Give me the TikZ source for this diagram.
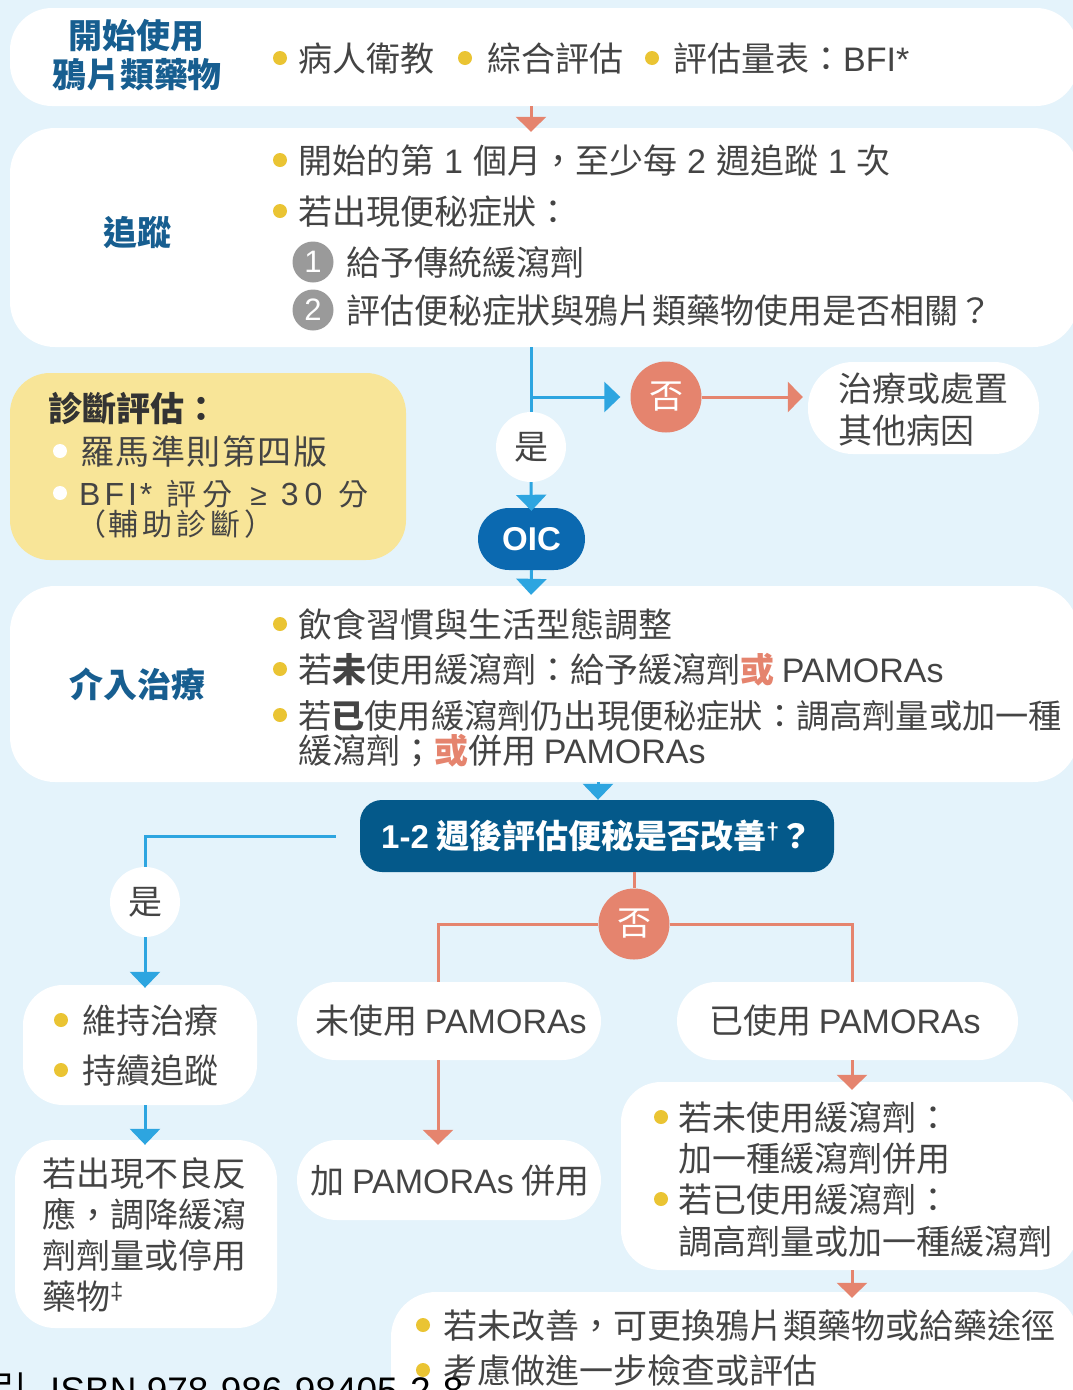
\documentclass[tikz,border=0pt]{standalone}
\usepackage{fontspec}
\setmainfont{Noto Sans CJK TC}
\newfontfamily\lat{Liberation Sans}
\usetikzlibrary{arrows.meta}
\definecolor{bg}{HTML}{E4F3FB}
\definecolor{navy}{HTML}{175E90}
\definecolor{txt}{HTML}{444444}
\definecolor{yel}{HTML}{EAC433}
\definecolor{sal}{HTML}{E5846E}
\definecolor{sky}{HTML}{2DA5E0}
\definecolor{oicc}{HTML}{0B69B0}
\definecolor{qcol}{HTML}{04598A}
\definecolor{ybox}{HTML}{F8E598}
\definecolor{numc}{HTML}{9A9A9A}
\newcommand\fsz{\fontsize{34}{40}\selectfont}
\newcommand\gp{\hspace{10pt}}
\newcommand\latb{\lat\fontsize{32}{32}\selectfont}
\tikzset{
  wbox/.style={draw=none, fill=white, rounded corners=40pt, inner sep=0pt},
  tx/.style={anchor=west, inner sep=0pt, text height=30pt, text depth=4pt, font=\fsz, text=txt},
  ctx/.style={tx, anchor=center},
  ttl/.style={inner sep=0pt, font=\bfseries\fontsize{34}{39}\selectfont, text=navy, align=center},
  bul/.style={circle, fill=yel, minimum size=14pt, inner sep=0pt},
  wbul/.style={bul, fill=white},
  numcirc/.style={circle, fill=numc, minimum size=41pt, inner sep=0pt, text=white, font=\lat\fontsize{31}{31}\selectfont},
  ynode/.style={circle, fill=white, minimum size=70pt, inner sep=0pt, font=\fsz, text=txt},
  nnode/.style={circle, fill=sal, minimum size=71pt, inner sep=0pt, font=\fsz, text=white},
  sarr/.style={draw=sal, line width=3pt, -{Triangle[width=30pt,length=15pt]}},
  barr/.style={draw=sky, line width=3pt, -{Triangle[width=30pt,length=16pt]}},
  sline/.style={draw=sal, line width=3pt},
  bline/.style={draw=sky, line width=3pt},
}
\begin{document}
\begin{tikzpicture}[x=1pt,y=-1pt]
\useasboundingbox (0,0) rectangle (1073,1390);
\clip (0,0) rectangle (1073,1390);
\fill[bg] (0,0) rectangle (1073,1390);

% coordinates for vertical connector lines
\coordinate (xa) at (531,0);
\coordinate (xq) at (598,0);
\coordinate (xn) at (634,0);
\coordinate (xl) at (438,0);
\coordinate (xr) at (852,0);
\coordinate (xy) at (145,0);

% ---------- box 1
\node[wbox, minimum width=1068pt, minimum height=98pt, rounded corners=42pt] (b1) at (544,57) {};
\node[ttl] (t1) at (137,55) {開始使用\\鴉片類藥物};
\node[bul] (u11) at (280,58) {};
\node[tx] (l11) at (298,58) {病人衛教};
\node[bul] (u12) at (465,58) {};
\node[tx] (l12) at (487,58) {綜合評估};
\node[bul] (u13) at (652,58) {};
\node[tx] (l13) at (673,58) {評估量表：{\lat BFI*}};

% ---------- box 2
\node[wbox, minimum width=1068pt, minimum height=219pt, rounded corners=45pt] (b2) at (544,237.5) {};
\node[ttl] (t2) at (137,233) {追蹤};
\node[bul] (u21) at (280,160) {};
\node[tx] (l21) at (298,160) {開始的第\gp{\lat 1}\gp 個月，至少每\gp{\lat 2}\gp 週追蹤\gp{\lat 1}\gp 次};
\node[bul] (u22) at (280,211) {};
\node[tx] (l22) at (298,211) {若出現便秘症狀：};
\node[numcirc] (n1) at (313,262) {1};
\node[tx] (l23) at (346,262) {給予傳統緩瀉劑};
\node[numcirc] (n2) at (313,310) {2};
\node[tx] (l24) at (346,310) {評估便秘症狀與鴉片類藥物使用是否相關？};

% ---------- yellow box
\node[wbox, fill=ybox, minimum width=396pt, minimum height=187pt, rounded corners=40pt] (yb) at (208,466.5) {};
\node[tx, text=black!80, font=\bfseries\fsz] (y0) at (48,408) {診斷評估：};
\node[wbul] (yu1) at (60,451) {};
\node[tx] (y1) at (80,451) {羅\hspace{1.5pt}馬\hspace{1.5pt}準\hspace{1.5pt}則\hspace{1.5pt}第\hspace{1.5pt}四\hspace{1.5pt}版};
\node[wbul] (yu2) at (60,493) {};
\node[tx, font=\fontsize{30}{34}\selectfont, text height=26pt, text depth=4pt] (y2) at (79,494) {{\latb B\hspace{4pt}F\hspace{4pt}I\hspace{3pt}*}\hspace{14pt}評\hspace{6pt}分\hspace{18pt}{\lat ≥}\hspace{14pt}{\latb 3\hspace{6pt}0}\hspace{16pt}分};
\node[tx, font=\fontsize{30}{34}\selectfont, text height=26pt, text depth=4pt] (y3) at (76,524) {（\hspace{2pt}輔\hspace{4pt}助\hspace{4pt}診\hspace{4pt}斷\hspace{4pt}）};

% ---------- yes / no after box 2
\node[ynode] (yes1) at (531,447) {是};
\node[nnode] (no1) at (666,397) {否};
\node[wbox, minimum width=231pt, minimum height=92pt, rounded corners=45pt] (tr) at (923.5,408) {};
\node[tx] (tr1) at (838,388) {治療或處置};
\node[tx] (tr2) at (838,430) {其他病因};
\node[fill=oicc, rounded corners=31pt, minimum width=107pt, minimum height=62pt, inner sep=0pt, text=white, font=\lat\bfseries\fontsize{33}{33}\selectfont] (oic) at (531.5,539) {OIC};

% ---------- box 3
\node[wbox, minimum width=1068pt, minimum height=196pt, rounded corners=45pt] (b3) at (544,684) {};
\node[ttl] (t3) at (137,684) {介入治療};
\node[bul] (u31) at (280,624) {};
\node[tx] (l31) at (298,624) {飲食習慣與生活型態調整};
\node[bul] (u32) at (280,669) {};
\node[tx] (l32) at (298,669) {若{\bfseries 未}使用緩瀉劑：給予緩瀉劑{\bfseries\color{sal}或} {\lat PAMORAs}};
\node[bul] (u33) at (280,715) {};
\node[tx, font=\fontsize{33.2}{38}\selectfont] (l33) at (298,715) {若{\bfseries 已}使用緩瀉劑仍出現便秘症狀：調高劑量或加一種};
\node[tx] (l34) at (298,750) {緩瀉劑；{\bfseries\color{sal}或}併用 {\lat PAMORAs}};

% ---------- question box
\node[fill=qcol, rounded corners=22pt, minimum width=474pt, minimum height=72pt, inner sep=0pt, text=white, font=\bfseries\fontsize{33}{33}\selectfont] (q) at (597,836) {{\lat 1-2} 週後評估便秘是否改善\textsuperscript{\lat †}？};

% ---------- yes branch
\node[ynode] (yes2) at (145,902) {是};
\node[wbox, minimum width=234pt, minimum height=120pt] (keep) at (140,1045) {};
\node[bul] (ku1) at (61,1020) {};
\node[tx] (k1) at (82,1020) {維持治療};
\node[bul] (ku2) at (61,1070) {};
\node[tx] (k2) at (82,1070) {持續追蹤};
\node[wbox, minimum width=262pt, minimum height=188pt] (adv) at (146,1234) {};
\node[tx] (a1) at (42,1173) {若出現不良反};
\node[tx] (a2) at (42,1214) {應，調降緩瀉};
\node[tx] (a3) at (42,1255) {劑劑量或停用};
\node[tx] (a4) at (42,1296) {藥物\textsuperscript{\lat ‡}};

% ---------- no branch
\node[nnode] (no2) at (634,924) {否};
\node[wbox, minimum width=304pt, minimum height=78pt, rounded corners=39pt] (nu) at (449,1021) {};
\node[ctx] (nut) at (451,1020) {未使用 {\lat PAMORAs}};
\node[wbox, minimum width=341pt, minimum height=78pt, rounded corners=39pt] (us) at (847.5,1021) {};
\node[ctx] (ust) at (845,1020) {已使用 {\lat PAMORAs}};
\node[wbox, minimum width=304pt, minimum height=80pt] (add) at (449,1180) {};
\node[ctx] (addt) at (450,1180) {加 {\lat PAMORAs} 併用};
\node[wbox, minimum width=457pt, minimum height=188pt] (rb) at (849.5,1176) {};
\node[bul] (ru1) at (661,1117) {};
\node[tx] (r1) at (678,1117) {若未使用緩瀉劑：};
\node[tx] (r2) at (678,1158) {加一種緩瀉劑併用};
\node[bul] (ru2) at (661,1199) {};
\node[tx] (r3) at (678,1199) {若已使用緩瀉劑：};
\node[tx] (r4) at (678,1241) {調高劑量或加一種緩瀉劑};
\node[wbox, minimum width=687pt, minimum height=148pt, rounded corners=45pt] (bt) at (734.5,1366) {};
\node[bul] (bu1) at (423,1325) {};
\node[tx] (bb1) at (443,1325) {若未改善，可更換鴉片類藥物或給藥途徑};
\node[bul] (bu2) at (423,1370) {};
\node[tx] (bb2) at (443,1370) {考慮做進一步檢查或評估};

% ---------- connectors
\draw[sarr] (b1.south -| xa) -- ([yshift=-4pt]b2.north -| xa);
\draw[bline] (b2.south -| xa) -- (yes1.north);
\draw[barr] (no1.west -| xa) -- ([xshift=-10pt]no1.west);
\draw[sarr] (no1.east) -- ([xshift=-5pt]no1.east -| tr.west);
\draw[barr] (yes1.south) -- ([yshift=-3pt]oic.north);
\draw[barr] (oic.south) -- ([yshift=-9pt]b3.north -| xa);
\draw[barr] (b3.south -| xq) -- (q.north -| xq);
\draw[bline] ([xshift=-24pt]q.west) -| (yes2.north);
\draw[barr] (yes2.south) -- ([yshift=-3pt]keep.north -| xy);
\draw[barr] (keep.south -| xy) -- ([yshift=-5pt]adv.north -| xy);
\draw[sline] (q.south -| xn) -- (no2.north);
\draw[sline] (no2.west) -| (nu.north -| xl);
\draw[sline] (no2.east) -| (us.north -| xr);
\draw[sarr] (nu.south -| xl) -- ([yshift=-5pt]add.north -| xl);
\draw[sarr] (us.south -| xr) -- ([yshift=-8pt]rb.north -| xr);
\draw[sarr] (rb.south -| xr) -- ([yshift=-6pt]bt.north -| xr);

% ---------- clipped source line at the bottom edge
\node[anchor=base west, inner sep=0pt, font=\fontsize{37}{40}\selectfont, text=black] (src1) at (-10,1403) {引};
\node[anchor=base west, inner sep=0pt, font=\lat\fontsize{37}{40}\selectfont, text=black] (src2) at (50,1403) {ISBN 978-986-98405-2-8};
\end{tikzpicture}
\end{document}
